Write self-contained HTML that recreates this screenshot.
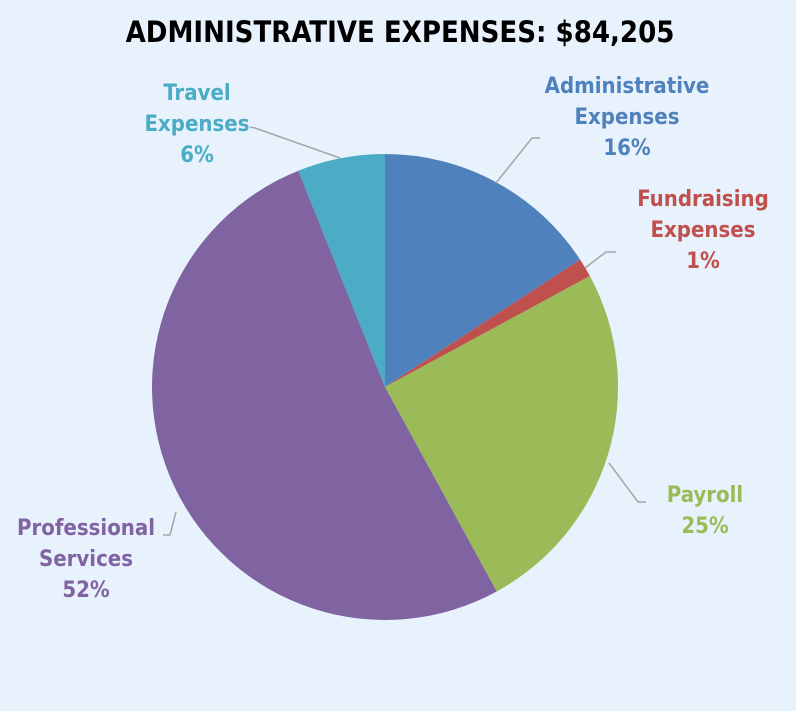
<!DOCTYPE html>
<html><head><meta charset="utf-8">
<style>
html,body{margin:0;padding:0;background:#E8F2FC;}
svg{display:block;}
text{font-family:"DejaVu Sans Condensed","Liberation Sans",sans-serif;}
</style></head>
<body>
<svg id="chart" width="796" height="711">
<rect width="796" height="711" fill="#E8F2FC"/>
<text x="400" y="42" text-anchor="middle" font-size="29" font-weight="bold" fill="#000">ADMINISTRATIVE EXPENSES: $84,205</text>
<g id="slices"></g>
<g id="labels"></g>
</svg>
<script>
const categories = ["Administrative Expenses","Fundraising Expenses","Payroll","Professional Services","Travel Expenses"];
const values = [13300, 1100, 21000, 43700, 5105];
const colors = ["#4F81BD","#C0504D","#9BBB59","#8064A2","#4BACC6"];
const NS="http://www.w3.org/2000/svg";
const cx=385, cy=387, r=233;
const total=values.reduce((a,b)=>a+b,0);
function pt(frac,rad){const a=frac*2*Math.PI;return [cx+rad*Math.sin(a), cy-rad*Math.cos(a)];}
const g=document.getElementById('slices');
let acc=0;
values.forEach((v,i)=>{
  const f0=acc/total, f1=(acc+v)/total; acc+=v;
  const [x0,y0]=pt(f0,r),[x1,y1]=pt(f1,r);
  const large=(f1-f0)>0.5?1:0;
  const p=document.createElementNS(NS,'path');
  p.setAttribute('d',`M${cx},${cy} L${x0},${y0} A${r},${r} 0 ${large} 1 ${x1},${y1} Z`);
  p.setAttribute('fill',colors[i]);
  
  
  g.appendChild(p);
});
const lab=document.getElementById('labels');
const labelDefs=[
 {lines:["Administrative","Expenses"],x:627,y:[93,124,155],lead:"540,138 532,138 496,183"},
 {lines:["Fundraising","Expenses"],x:703,y:[206,237,268],lead:"616,252 606,252 585,268"},
 {lines:["Payroll"],x:705,y:[502,533],lead:"646,502 638,502 609,463"},
 {lines:["Professional","Services"],x:86,y:[535,566,597],lead:"163,535 170,535 176,512"},
 {lines:["Travel","Expenses"],x:197,y:[100,131,162],lead:"250,127 255,128 340,158"}
];
labelDefs.forEach((d,i)=>{
  const pl=document.createElementNS(NS,'polyline');
  pl.setAttribute('points',d.lead);pl.setAttribute('fill','none');pl.setAttribute('stroke','#A6A6A6');pl.setAttribute('stroke-width','1.5');
  
  
  lab.appendChild(pl);
  const t=document.createElementNS(NS,'text');
  t.setAttribute('text-anchor','middle');t.setAttribute('font-size','22');t.setAttribute('font-weight','bold');t.setAttribute('fill',colors[i]);
  
  
  const all=d.lines.concat([Math.round(values[i]/total*100)+'%']);
  all.forEach((s,k)=>{const ts=document.createElementNS(NS,'tspan');ts.setAttribute('x',d.x);ts.setAttribute('y',d.y[k]);ts.textContent=s;t.appendChild(ts);});
  lab.appendChild(t);
});
</script>
</body></html>
